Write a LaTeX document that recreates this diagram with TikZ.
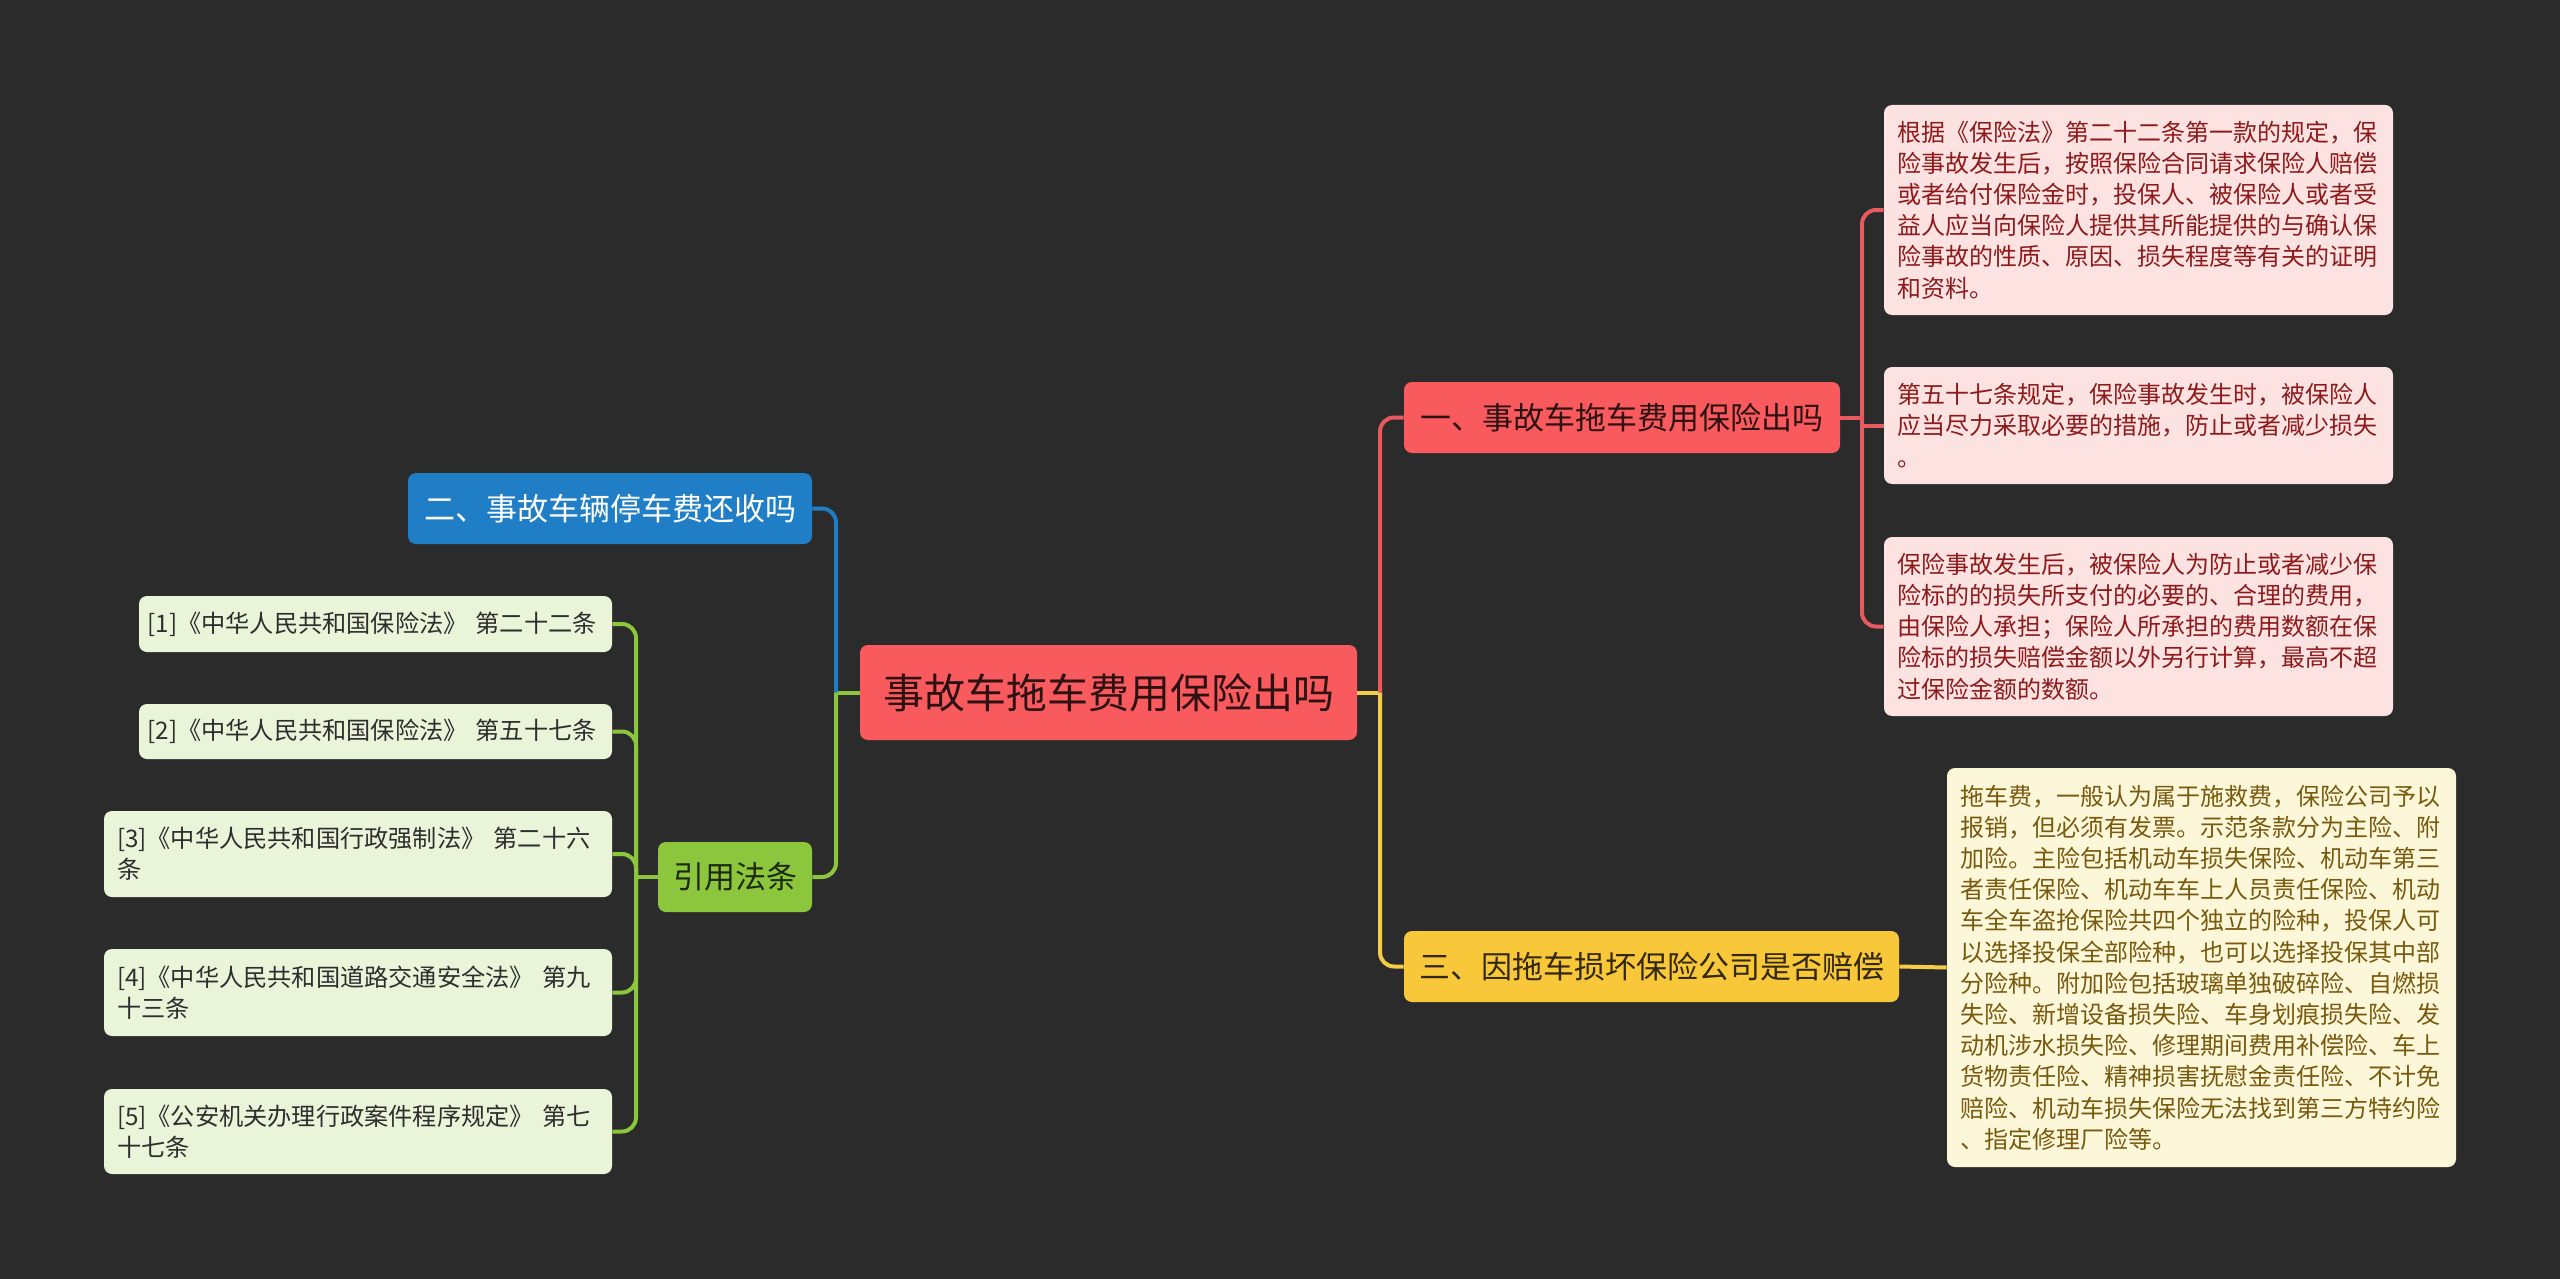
\documentclass[tikz,border=0pt]{standalone}
\usepackage{fontspec}
\setmainfont{Noto Sans CJK SC}
\definecolor{bg}{HTML}{2B2B2B}
\definecolor{rootred}{HTML}{F95A5E}
\definecolor{rootTxt}{HTML}{2E1212}
\definecolor{blueN}{HTML}{1F7EC5}
\definecolor{greenN}{HTML}{8CC63C}
\definecolor{greenTxt}{HTML}{1E2A0E}
\definecolor{yellowN}{HTML}{F8C83A}
\definecolor{yellowTxt}{HTML}{33290A}
\definecolor{redL}{HTML}{E85A5E}
\definecolor{blueL}{HTML}{1F7EC5}
\definecolor{greenL}{HTML}{8CC63C}
\definecolor{yellowL}{HTML}{F5CC45}
\definecolor{pinkF}{HTML}{FDE2E2}
\definecolor{pinkTxt}{HTML}{8E1B1B}
\definecolor{creamF}{HTML}{FDF7DA}
\definecolor{creamTxt}{HTML}{785A0E}
\definecolor{lgreenF}{HTML}{EAF4D8}
\definecolor{lgreenTxt}{HTML}{2E2E2E}
\tikzset{
  basebox/.style={rounded corners=4pt, inner ysep=0pt, inner xsep=6.5pt},
  rootbox/.style={basebox, fill=rootred, text=rootTxt, align=center,
    font=\fontsize{20.5}{24}\selectfont, minimum width=248.5pt, minimum height=47.5pt},
  topbox/.style={basebox, align=center, font=\fontsize{15.5}{18}\selectfont, minimum height=35.5pt},
  leafbox/.style={basebox, align=left, font=\fontsize{12}{15.6}\selectfont},
  pinkbox/.style={leafbox, fill=pinkF, text=pinkTxt, text width=241.5pt},
  creambox/.style={leafbox, fill=creamF, text=creamTxt, text width=241.5pt},
  lawbox/.style={leafbox, fill=lgreenF, text=lgreenTxt, font=\fontsize{12.1}{15.6}\selectfont},
  conn/.style={line width=2pt, rounded corners=7pt},
}
\begin{document}
\begin{tikzpicture}[x=0.5pt,y=-0.5pt]
\fill[bg] (0,0) rectangle (2560,1279);
\useasboundingbox (0,0) rectangle (2560,1279);

% nodes
\node[rootbox] (root) at (1108.5,692.5) {事故车拖车费用保险出吗};
\node[topbox, fill=rootred, text=rootTxt, minimum width=218pt] (t1) at (1622,417.5) {一、事故车拖车费用保险出吗};
\node[topbox, fill=yellowN, text=yellowTxt, minimum width=247.5pt] (t3) at (1651.5,966.5) {三、因拖车损坏保险公司是否赔偿};
\node[topbox, fill=blueN, text=white, minimum width=202pt] (t2) at (610,508.5) {二、事故车辆停车费还收吗};
\node[topbox, fill=greenN, text=greenTxt, minimum width=77pt, minimum height=35pt] (t4) at (735,877) {引用法条};

\node[pinkbox, minimum height=105pt] (ra) at (2138.5,210) {根据《保险法》第二十二条第一款的规定，保\\险事故发生后，按照保险合同请求保险人赔偿\\或者给付保险金时，投保人、被保险人或者受\\益人应当向保险人提供其所能提供的与确认保\\险事故的性质、原因、损失程度等有关的证明\\和资料。};
\node[pinkbox, minimum height=58.5pt] (rb) at (2138.5,425.5) {第五十七条规定，保险事故发生时，被保险人\\应当尽力采取必要的措施，防止或者减少损失\\。};
\node[pinkbox, minimum height=89.5pt] (rc) at (2138.5,626.5) {保险事故发生后，被保险人为防止或者减少保\\险标的的损失所支付的必要的、合理的费用，\\由保险人承担；保险人所承担的费用数额在保\\险标的损失赔偿金额以外另行计算，最高不超\\过保险金额的数额。};
\node[creambox, minimum height=199.5pt] (rd) at (2201.5,967.5) {拖车费，一般认为属于施救费，保险公司予以\\报销，但必须有发票。示范条款分为主险、附\\加险。主险包括机动车损失保险、机动车第三\\者责任保险、机动车车上人员责任保险、机动\\车全车盗抢保险共四个独立的险种，投保人可\\以选择投保全部险种，也可以选择投保其中部\\分险种。附加险包括玻璃单独破碎险、自燃损\\失险、新增设备损失险、车身划痕损失险、发\\动机涉水损失险、修理期间费用补偿险、车上\\货物责任险、精神损害抚慰金责任险、不计免\\赔险、机动车损失保险无法找到第三方特约险\\、指定修理厂险等。};

\node[lawbox, inner xsep=4.25pt, text width=228pt, minimum height=28pt] (l1) at (375.5,624) {[1]《中华人民共和国保险法》 第二十二条};
\node[lawbox, inner xsep=4.25pt, text width=228pt, minimum height=27.5pt] (l2) at (375.5,731.5) {[2]《中华人民共和国保险法》 第五十七条};
\node[lawbox, text width=241pt, minimum height=43pt] (l3) at (358,854) {[3]《中华人民共和国行政强制法》 第二十六\\条};
\node[lawbox, text width=241pt, minimum height=43.5pt] (l4) at (358,992.5) {[4]《中华人民共和国道路交通安全法》 第九\\十三条};
\node[lawbox, text width=241pt, minimum height=42.5pt] (l5) at (358,1131.5) {[5]《公安机关办理行政案件程序规定》 第七\\十七条};

% junctions
\coordinate (jr) at (1380,692.5);
\coordinate (jl) at (836,692.5);
\coordinate (j1) at (1862,417.5);
\coordinate (j4) at (636,877);

% connectors right
\draw[conn, yellowL] (root.east) -- (jr);
\draw[conn, redL] (jr) |- (t1.west);
\draw[conn, yellowL] (jr) |- (t3.west);
\draw[conn, redL] (t1.east) -- (j1);
\draw[conn, redL] (j1) |- (ra.west);
\draw[line width=2pt, redL] (j1) |- (rb.west);
\draw[conn, redL] (j1) |- (rc.west);
\draw[conn, yellowL] (t3.east) -- (rd.west);

% connectors left
\draw[conn, greenL] (root.west) -- (jl);
\draw[conn, blueL] (jl) |- (t2.east);
\draw[conn, greenL] (jl) |- (t4.east);
\draw[conn, greenL] (t4.west) -- (j4);
\draw[conn, greenL] (j4) |- (l1.east);
\draw[conn, greenL] (j4) |- (l2.east);
\draw[conn, greenL] (j4) |- (l3.east);
\draw[conn, greenL] (j4) |- (l4.east);
\draw[conn, greenL] (j4) |- (l5.east);
\end{tikzpicture}
\end{document}
